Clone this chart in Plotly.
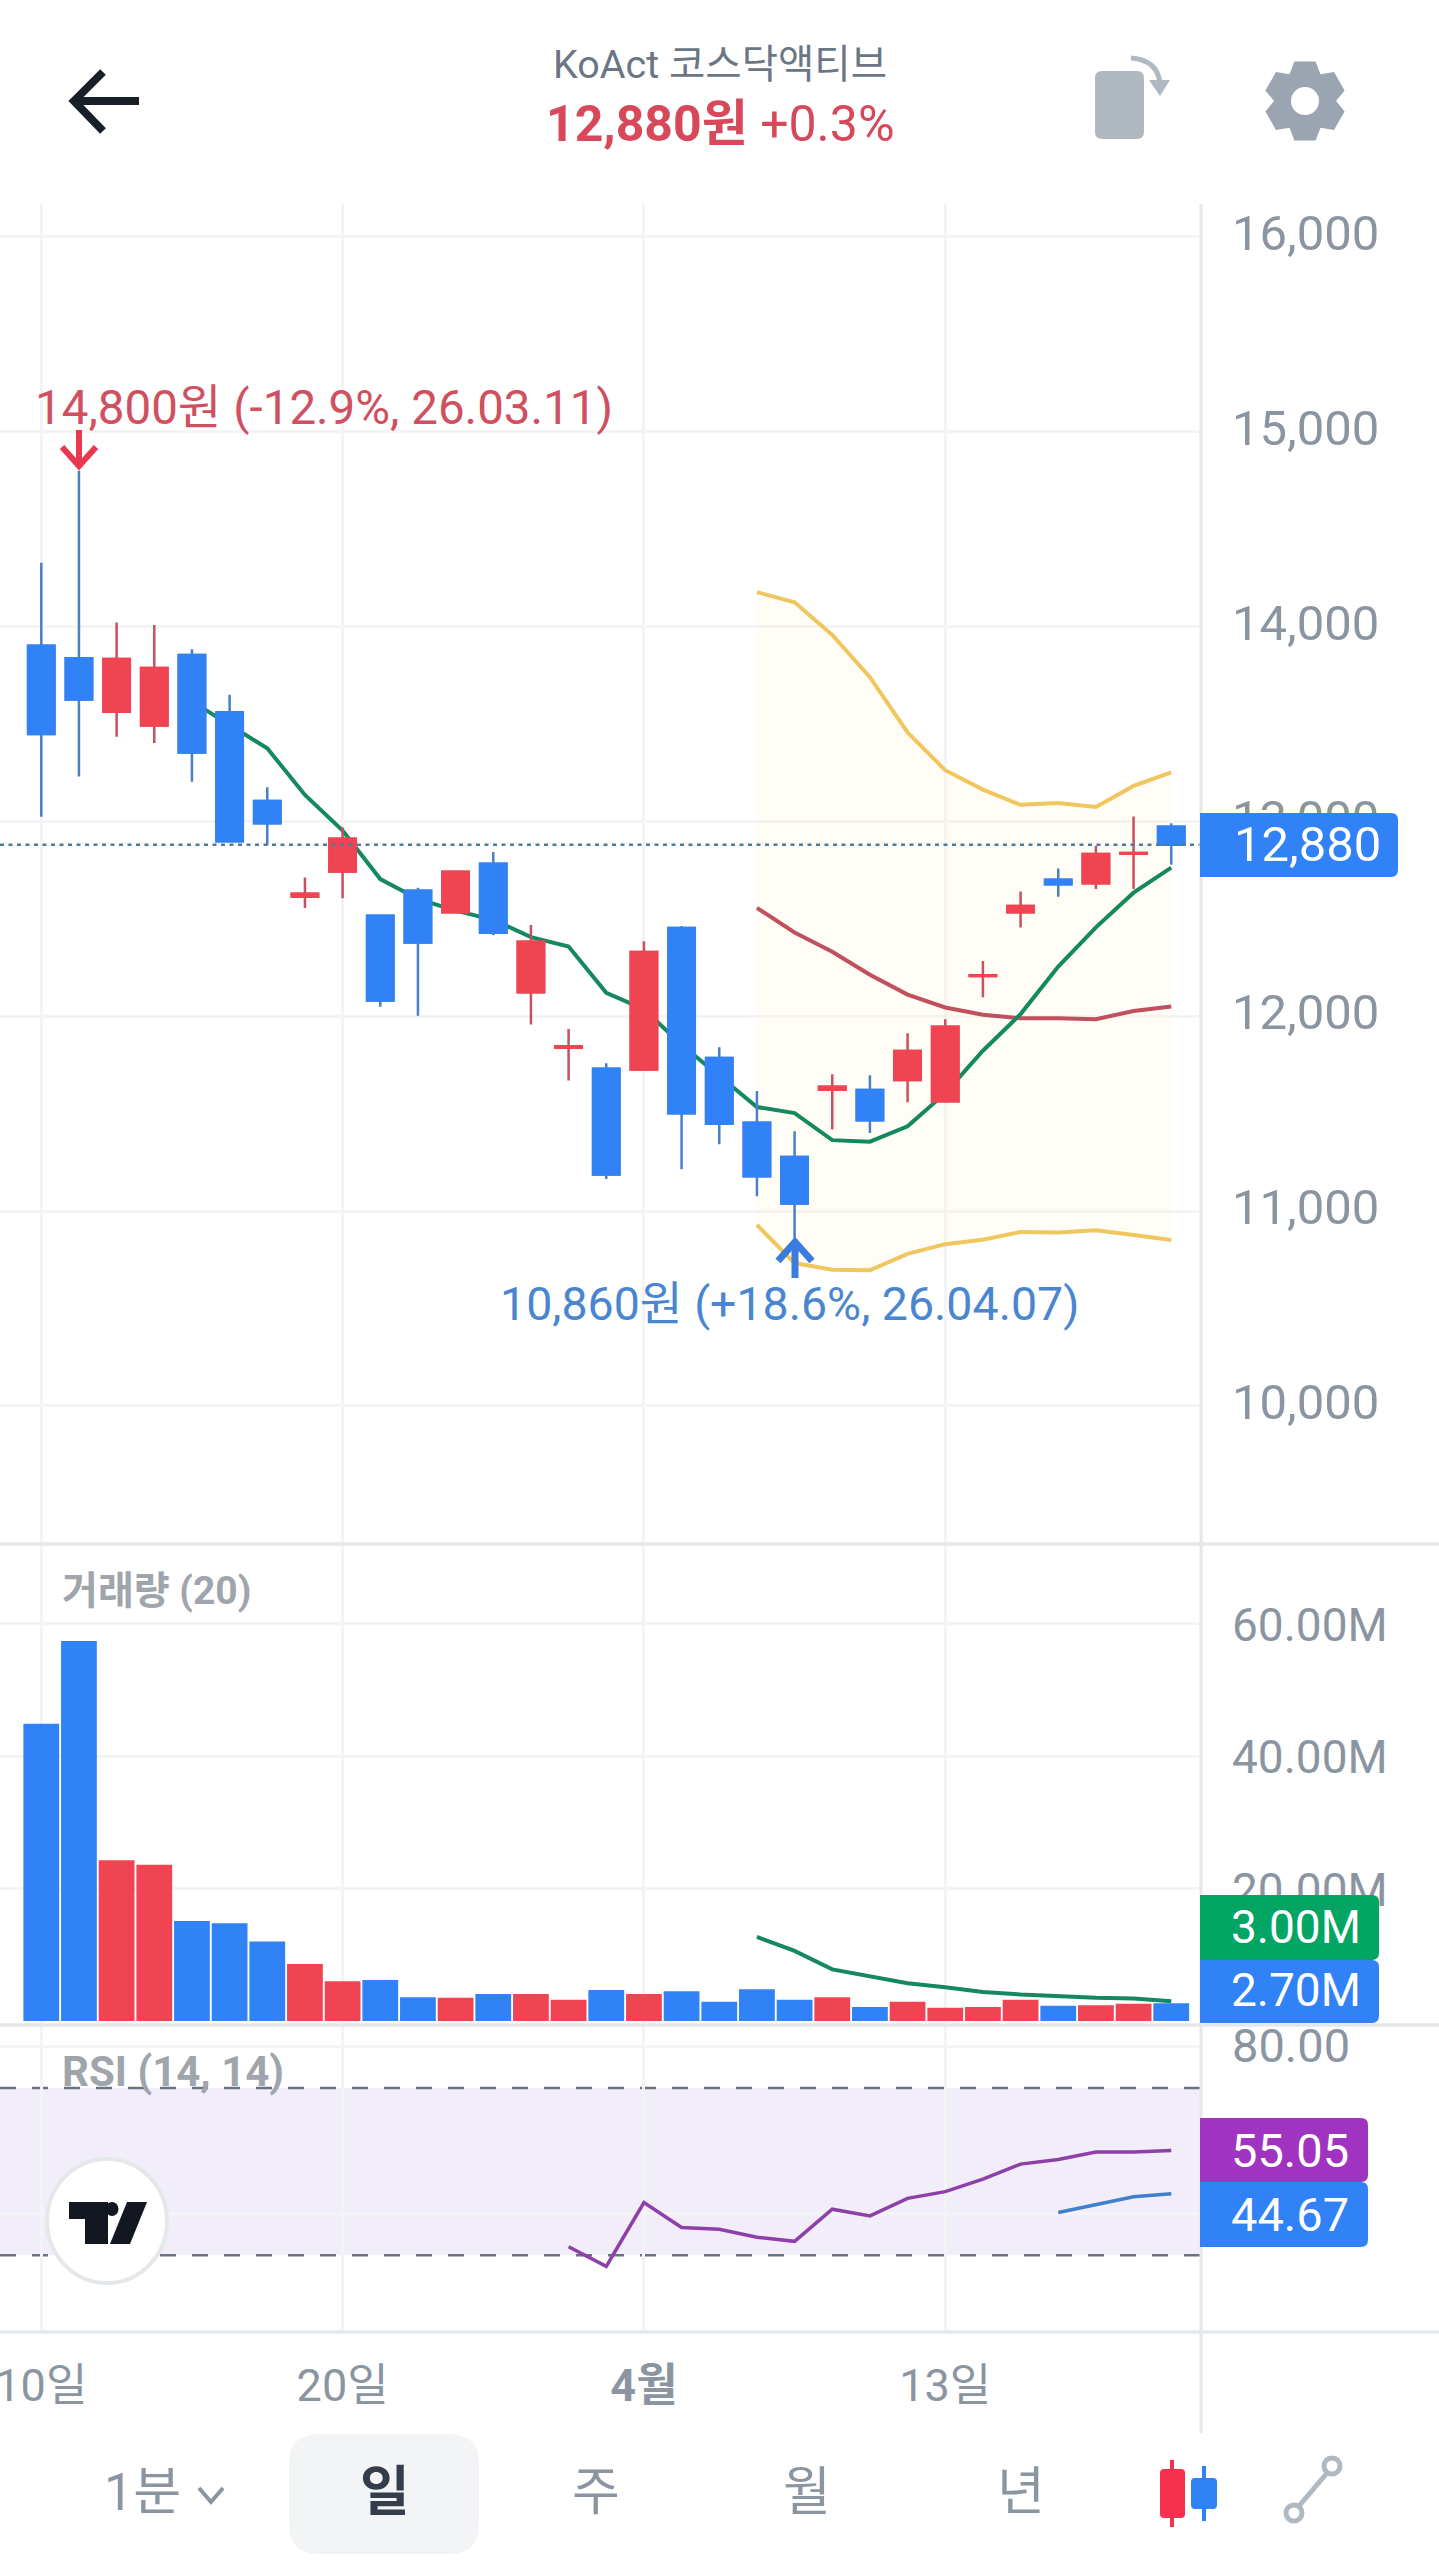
import math
import plotly.graph_objects as go
from plotly.subplots import make_subplots

W, H = 1439, 2560

days = ['03-10', '03-11', '03-12', '03-13', '03-16', '03-17', '03-18', '03-19', '03-20', '03-23', '03-24',
        '03-25', '03-26', '03-27', '03-30', '03-31', '04-01', '04-02', '04-03', '04-06', '04-07', '04-08',
        '04-09', '04-10', '04-13', '04-14', '04-15', '04-16', '04-17', '04-20', '04-21']

opens = [13901, 13838, 13563, 13492, 13854, 13560, 13105, 12613, 12743, 12516, 12644, 12534, 12783, 12123, 11838,
         11730, 11727, 12453, 11786, 11453, 11278, 11622, 11621, 11673, 11563, 12207, 12534, 12701, 12682, 12834,
         12972]
highs = [14327, 14800, 14021, 14008, 13883, 13650, 13175, 12712, 12969, 12518, 12660, 12741, 12843, 12468, 11934,
         11759, 12385, 12463, 11841, 11616, 11409, 11702, 11697, 11912, 11985, 12283, 12640, 12758, 12875, 13025,
         12991]
lows = [13024, 13230, 13435, 13403, 13204, 12898, 12877, 12555, 12605, 12049, 12002, 12534, 12416, 11958, 11670,
        11164, 11727, 11214, 11343, 11076, 10860, 11419, 11401, 11558, 11563, 12098, 12456, 12613, 12653, 12653,
        12778]
closes = [13448, 13626, 13833, 13788, 13354, 12898, 12990, 12629, 12911, 12081, 12379, 12741, 12429, 12382, 11846,
          11188, 12330, 11502, 11448, 11178, 11039, 11638, 11466, 11822, 11946, 12210, 12566, 12678, 12833, 12838,
          12880]

ma_days = days[4:]
ma_vals = [13616, 13498, 13375, 13136, 12953, 12704, 12602, 12542, 12495, 12406, 12358, 12120, 12036, 11854, 11692,
           11534, 11503, 11364, 11356, 11435, 11605, 11823, 12011, 12255, 12456, 12634, 12763]

bb_days = days[19:]
bb_upper = [14177, 14125, 13957, 13740, 13457, 13263, 13163, 13085, 13095, 13074, 13182, 13252]
bb_mid = [12556, 12430, 12331, 12213, 12111, 12045, 12008, 11990, 11990, 11985, 12027, 12050]
bb_lower = [10929, 10733, 10699, 10696, 10780, 10830, 10853, 10893, 10890, 10901, 10877, 10851]

volumes = [44.9, 57.4, 24.3, 23.6, 15.1, 14.75, 12.0, 8.6, 6.0, 6.2, 3.6, 3.5, 4.1, 4.1, 3.2, 4.7, 4.1, 4.5, 2.9,
           4.8, 3.2, 3.6, 2.1, 2.9, 2.0, 2.1, 3.2, 2.3, 2.4, 2.6, 2.7]
vol_ma_days = days[19:]
vol_ma = [12.7, 10.6, 7.8, 6.7, 5.7, 5.1, 4.4, 4.0, 3.7, 3.5, 3.4, 3.0]

rsi_days = days[14:]
rsi_vals = [32.0, 27.3, 42.6, 36.6, 36.2, 34.3, 33.3, 41.0, 39.4, 43.6, 45.2, 48.2, 51.8, 52.9, 54.7, 54.7, 55.05]
sig_days = days[27:]
sig_vals = [40.2, 42.0, 44.0, 44.67]

tick_days = ['03-10', '03-20', '04-01', '04-13']
tick_names = ['10일', '20일', '<b>4월</b>', '13일']
price_ticks = [10000, 11000, 12000, 13000, 14000, 15000, 16000]
vol_ticks = [20, 40, 60]
rsi_ticks = [40, 80]

RED, BLUE = '#F04452', '#3182F6'
RED_WICK, BLUE_WICK = '#C8505F', '#4A80C4'
GREY = '#8B95A1'
GRID = '#F2F4F6'
EDGE = '#E5E8EB'
FONT = "Roboto, 'Noto Sans CJK KR', sans-serif"


def fx(x):
    return x / W


def fy(y):
    return 1 - y / H


def pt(x, y):
    return f'{fx(x)},{fy(y)}'


def polyline(points, close=False):
    s = 'M ' + ' L '.join(pt(x, y) for x, y in points)
    return s + ' Z' if close else s


def round_box(x0, y0, x1, y1, rl, rr):
    return (f'M {pt(x0 + rl, y0)} L {pt(x1 - rr, y0)} Q {pt(x1, y0)} {pt(x1, y0 + rr)} L {pt(x1, y1 - rr)} '
            f'Q {pt(x1, y1)} {pt(x1 - rr, y1)} L {pt(x0 + rl, y1)} Q {pt(x0, y1)} {pt(x0, y1 - rl)} '
            f'L {pt(x0, y0 + rl)} Q {pt(x0, y0)} {pt(x0 + rl, y0)} Z')


fig = make_subplots(rows=3, cols=1, shared_xaxes=True,
                    specs=[[{'secondary_y': True}], [{}], [{}]])

# bollinger band + moving average, under the candles
fig.add_trace(go.Scatter(x=bb_days, y=bb_upper, mode='lines', line=dict(color='#F0C75E', width=4)), 1, 1)
fig.add_trace(go.Scatter(x=bb_days, y=bb_lower, mode='lines', line=dict(color='#F0C75E', width=4),
                         fill='tonexty', fillcolor='rgba(255,240,190,0.15)'), 1, 1)
fig.add_trace(go.Scatter(x=bb_days, y=bb_mid, mode='lines', line=dict(color='#C0505E', width=4)), 1, 1)
fig.add_trace(go.Scatter(x=ma_days, y=ma_vals, mode='lines', line=dict(color='#14885F', width=4)), 1, 1)

# wicks first, then bodies on top because the wick colour is duller than the body
fig.add_trace(go.Candlestick(x=days, open=opens, high=highs, low=lows, close=closes, whiskerwidth=0,
                             increasing=dict(line=dict(color=RED_WICK, width=2.5), fillcolor=RED),
                             decreasing=dict(line=dict(color=BLUE_WICK, width=2.5), fillcolor=BLUE)),
              1, 1, secondary_y=True)
body_top = [max(o, c) for o, c in zip(opens, closes)]
body_bot = [min(o, c) for o, c in zip(opens, closes)]
fig.add_trace(go.Candlestick(x=days, open=opens, high=body_top, low=body_bot, close=closes, whiskerwidth=0,
                             increasing=dict(line=dict(color=RED, width=2.5), fillcolor=RED),
                             decreasing=dict(line=dict(color=BLUE, width=2.5), fillcolor=BLUE)),
              1, 1, secondary_y=True)

bar_colors = [RED if c > o else BLUE for o, c in zip(opens, closes)]
fig.add_trace(go.Bar(x=days, y=volumes, marker=dict(color=bar_colors, line=dict(width=0))), 2, 1)
fig.add_trace(go.Scatter(x=vol_ma_days, y=vol_ma, mode='lines', line=dict(color='#14885F', width=4)), 2, 1)

fig.add_trace(go.Scatter(x=rsi_days, y=rsi_vals, mode='lines', line=dict(color='#8E3FA8', width=3.5)), 3, 1)
fig.add_trace(go.Scatter(x=sig_days, y=sig_vals, mode='lines', line=dict(color='#3F7FCB', width=3.5)), 3, 1)

x_range = [-1.096, 30.79]
for name in ['xaxis', 'xaxis2', 'xaxis3']:
    fig.update_layout({name: dict(domain=[0, 1201 / W], range=x_range, type='category', categoryorder='array',
                                  categoryarray=days, tickmode='array', tickvals=tick_days, ticktext=tick_names,
                                  showgrid=True, gridcolor=GRID, gridwidth=2.5, zeroline=False, showline=False,
                                  ticklen=0, rangeslider=dict(visible=False),
                                  tickfont=dict(family=FONT, size=45, color=GREY),
                                  ticklabelstandoff=23, showticklabels=name == 'xaxis3')})

grid_y = dict(side='right', showgrid=True, gridcolor=GRID, gridwidth=3, zeroline=False, showline=False, ticklen=0,
              ticklabelstandoff=30, tickmode='array')
fig.update_layout(
    yaxis=dict(domain=[fy(1544), fy(204)], range=[9291, 16169], tickvals=price_ticks, ticklabelshift=-4,
               ticktext=[f'{v:,}' for v in price_ticks], tickfont=dict(family=FONT, size=49, color=GREY), **grid_y),
    yaxis2=dict(range=[9291, 16169], showgrid=False, showticklabels=False, zeroline=False, ticklen=0),
    yaxis3=dict(domain=[fy(2025), fy(1544)], range=[-0.6, 72.05], tickvals=vol_ticks, ticklabelshift=1,
                ticktext=[f'{v:.2f}M' for v in vol_ticks], tickfont=dict(family=FONT, size=46, color=GREY), **grid_y),
    yaxis4=dict(domain=[fy(2332), fy(2025)], range=[11.6, 85.1], tickvals=rsi_ticks, ticklabelshift=-1,
                ticktext=[f'{v:.2f}' for v in rsi_ticks], tickfont=dict(family=FONT, size=47, color=GREY), **grid_y),
    width=W, height=H, margin=dict(l=0, r=0, t=0, b=0, autoexpand=False), autosize=False,
    paper_bgcolor='white', plot_bgcolor='white', showlegend=False, hovermode=False, dragmode=False,
    barmode='overlay', bargap=0.05, boxgap=0.3, boxgroupgap=0, boxmode='overlay',
)

shapes = []


def paper_shape(path, fill=None, line=None, lw=0, layer='above'):
    shapes.append(dict(type='path', xref='paper', yref='paper', path=path, layer=layer,
                       fillcolor=fill or 'rgba(0,0,0,0)', line=dict(color=line or 'rgba(0,0,0,0)', width=lw)))


def circle(cx, cy, rx, ry, fill, line=None, lw=0):
    shapes.append(dict(type='circle', xref='paper', yref='paper', x0=fx(cx - rx), x1=fx(cx + rx), y0=fy(cy + ry),
                       y1=fy(cy - ry), fillcolor=fill, layer='above',
                       line=dict(color=line or 'rgba(0,0,0,0)', width=lw)))


# RSI band and its dashed limits
shapes.append(dict(type='rect', xref='x3 domain', yref='y4', x0=0, x1=1, y0=30, y1=70, layer='below',
                   fillcolor='rgba(115,75,200,0.10)', line=dict(width=0)))
for level in [70, 30]:
    shapes.append(dict(type='line', xref='x3 domain', yref='y4', x0=0, x1=1, y0=level, y1=level, layer='below',
                       line=dict(color='#6B7280', width=2.5, dash='16px,16px')))

# last price line
shapes.append(dict(type='line', xref='x domain', yref='y', x0=0, x1=1, y0=closes[-1], y1=closes[-1], layer='above',
                   line=dict(color='#4F7C99', width=2.5, dash='4px,4.5px')))

# pane separators and right edge
for y in [1544, 2025, 2332]:
    paper_shape(polyline([(0, y), (W, y)]), line=EDGE, lw=3.5)
paper_shape(polyline([(1201, 204), (1201, 2433)]), line=EDGE, lw=3)

# high / low arrows
paper_shape(polyline([(79, 430), (79, 465)]), line='#E8394F', lw=6)
paper_shape(polyline([(62, 447), (79, 466), (96, 447)]), line='#E8394F', lw=6)
paper_shape(polyline([(795, 1278), (795, 1243)]), line='#3A7BE0', lw=7)
paper_shape(polyline([(778, 1261), (795, 1242), (812, 1261)]), line='#3A7BE0', lw=7)

# value tags
paper_shape(round_box(1200, 813, 1398, 877, 0, 7), fill=BLUE)
paper_shape(round_box(1200, 1895, 1379, 1960, 0, 7), fill='#03A564')
paper_shape(round_box(1200, 1960, 1379, 2023, 0, 7), fill=BLUE)
paper_shape(round_box(1200, 2118, 1368, 2182, 0, 7), fill='#A033C0')
paper_shape(round_box(1200, 2182, 1368, 2247, 0, 7), fill=BLUE)

# tradingview badge
circle(107, 2221, 60, 62, 'white', EDGE, 4)
paper_shape(polyline([(69, 2202), (108, 2202), (108, 2244), (85, 2244), (85, 2219), (69, 2219)], True), fill='#131722')
circle(112, 2209, 6.5, 7, '#131722')
paper_shape(polyline([(127, 2202), (147, 2202), (130, 2244), (110, 2244)], True), fill='#131722')

# header icons
paper_shape(polyline([(139, 101), (74, 101)]), line='#191F28', lw=8)
paper_shape(polyline([(103, 72), (74, 101), (103, 131)]), line='#191F28', lw=8)
paper_shape(round_box(1095, 71, 1144, 139, 7, 7), fill='#B0B8C1')
paper_shape(f'M {pt(1131, 58)} Q {pt(1158, 60)} {pt(1160, 84)}', line='#B0B8C1', lw=5)
paper_shape(polyline([(1149, 80), (1170, 80), (1160, 96)], True), fill='#B0B8C1')
gear = []
for k in range(6):
    a = math.radians(90 + 60 * k)
    for da, r in [(-30, 31), (-15, 41), (15, 41)]:
        gear.append((1305 + r * math.cos(a + math.radians(da)), 101 - r * math.sin(a + math.radians(da))))
paper_shape(polyline(gear, True), fill='#9AA5B1')
circle(1305, 101, 14, 14, 'white')

# bottom tabs
paper_shape(round_box(289, 2434, 479, 2554, 30, 30), fill=GRID)
paper_shape(polyline([(199, 2488), (211, 2502), (223, 2488)]), line=GREY, lw=4)
paper_shape(polyline([(1172, 2460), (1172, 2527)]), line='#F6304F', lw=4)
paper_shape(round_box(1160, 2469, 1185, 2518, 4, 4), fill='#F6304F')
paper_shape(polyline([(1204, 2466), (1204, 2521)]), line=BLUE, lw=4)
paper_shape(round_box(1191, 2478, 1217, 2509, 4, 4), fill=BLUE)
paper_shape(polyline([(1299, 2506), (1327, 2473)]), line='#B0B8C1', lw=5)
circle(1294, 2513, 8, 8, 'white', '#B0B8C1', 5)
circle(1332, 2466, 8, 8, 'white', '#B0B8C1', 5)

fig.update_layout(shapes=shapes)


def label(text, x, y, size, color, anchor='center'):
    fig.add_annotation(text=text, xref='paper', yref='paper', x=fx(x), y=fy(y), xanchor=anchor, yanchor='middle',
                       showarrow=False, align=anchor, font=dict(family=FONT, size=size, color=color))


label('KoAct 코스닥액티브', 720, 64, 39.5, '#6B7684')
label('<b>12,880원</b> +0.3%', 720, 124, 50, '#D6485A')
label('14,800원 (-12.9%, 26.03.11)', 33, 408, 47.5, '#D0505F', 'left')
label('10,860원 (+18.6%, 26.04.07)', 498, 1304, 46.5, '#4A86D0', 'left')
label('<b>거래량 (20)</b>', 60, 1591, 39, '#A0A4AB', 'left')
label('<b>RSI (14, 14)</b>', 60, 2071, 42, '#A0A4AB', 'left')
label('12,880', 1232, 844, 49, 'white', 'left')
label('3.00M', 1229, 1927, 46, 'white', 'left')
label('2.70M', 1229, 1990, 46, 'white', 'left')
label('55.05', 1229, 2150, 47, 'white', 'left')
label('44.67', 1229, 2214, 47, 'white', 'left')
label('1분', 142, 2492, 52, GREY)
label('<b>일</b>', 385, 2492, 54, '#333D4B')
label('주', 596, 2492, 52, GREY)
label('월', 807, 2492, 52, GREY)
label('년', 1021, 2492, 52, GREY)

# page default margin would push the chart off the 1439 wide window
fig.write_html("out.html", config={'displayModeBar': False}, post_script="document.body.style.margin='0';")
